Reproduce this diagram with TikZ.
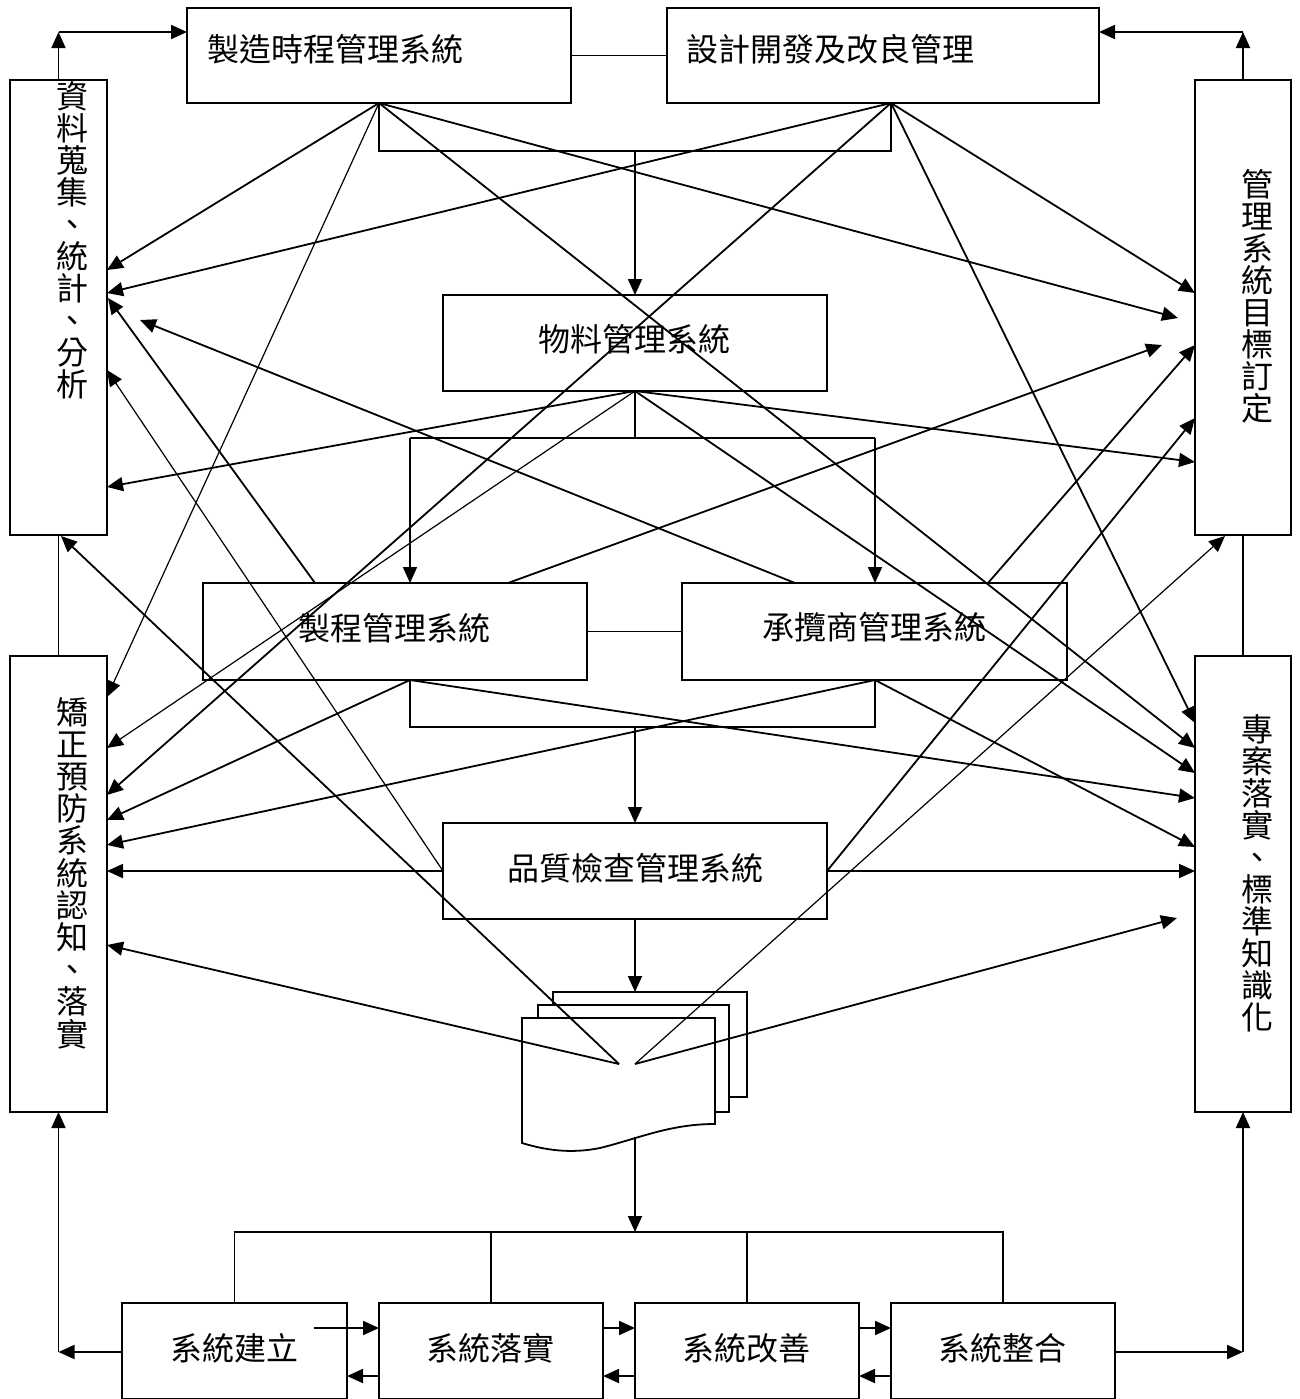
\documentclass[tikz,border=0pt]{standalone}
\usepackage{fontspec}
\newfontfamily\cjk{Noto Sans CJK TC}
\usetikzlibrary{arrows.meta}
\begin{document}
\begin{tikzpicture}[x=0.5pt,y=-0.5pt,
  box/.style={draw,line width=0.9pt,inner sep=0,outer sep=0},
  ln/.style={line width=0.9pt},
  arr/.style={line width=0.9pt,-{Triangle[length=8pt,width=7pt]}},
  tarr/.style={line width=0.6pt,-{Triangle[length=8pt,width=7pt]}},
  lbl/.style={font=\cjk\fontsize{16}{16}\selectfont,inner sep=0,anchor=base}]
\useasboundingbox (0,0) rectangle (1300,1399);
% ---------- boxes ----------
\node[box,minimum width=192pt,minimum height=47.5pt] (A) at (379,55.5) {};
\node[box,minimum width=216pt,minimum height=47.5pt] (B) at (883,55.5) {};
\node[box,minimum width=48.5pt,minimum height=227.5pt] (L1) at (58.5,307.5) {};
\node[box,minimum width=48pt,minimum height=227.5pt] (R1) at (1243,307.5) {};
\node[box,minimum width=48.5pt,minimum height=228pt] (L2) at (58.5,884) {};
\node[box,minimum width=48pt,minimum height=228pt] (R2) at (1243,884) {};
\node[box,minimum width=192pt,minimum height=48pt] (M) at (635,343) {};
\node[box,minimum width=192pt,minimum height=48.5pt] (P) at (395,631.5) {};
\node[box,minimum width=192.5pt,minimum height=48.5pt] (C) at (874.5,631.5) {};
\node[box,minimum width=192pt,minimum height=48pt] (Q) at (635,871) {};
\node[box,minimum width=112.5pt,minimum height=48pt] (S1) at (234.5,1351) {};
\node[box,minimum width=112pt,minimum height=48pt] (S2) at (491,1351) {};
\node[box,minimum width=112pt,minimum height=48pt] (S3) at (747,1351) {};
\node[box,minimum width=112pt,minimum height=48pt] (S4) at (1003,1351) {};
% ---------- labels ----------
\node[lbl] (tA) at (335,61) {製造時程管理系統};
\node[lbl] (tB) at (830,61) {設計開發及改良管理};
\node[lbl] (tM) at (634,351) {物料管理系統};
\node[lbl] (tP) at (394,640) {製程管理系統};
\node[lbl] (tC) at (874,639) {承攬商管理系統};
\node[lbl] (tQ) at (635,880) {品質檢查管理系統};
\node[lbl] (tS1) at (234,1360) {系統建立};
\node[lbl] (tS2) at (490.5,1360) {系統落實};
\node[lbl] (tS3) at (746.5,1360) {系統改善};
\node[lbl] (tS4) at (1002.5,1360) {系統整合};
\foreach \ch [count=\i from 0] in {資,料,蒐,集,、,統,計,、,分,析}
  \node[lbl] (tL1\i) at (72,{108+32*\i}) {\ch};
\foreach \ch [count=\i from 0] in {管,理,系,統,目,標,訂,定}
  \node[lbl] (tR1\i) at (1257,{196+32*\i}) {\ch};
\foreach \ch [count=\i from 0] in {矯,正,預,防,系,統,認,知,、,落,實}
  \node[lbl] (tL2\i) at (72,{724+32.2*\i}) {\ch};
\foreach \ch [count=\i from 0] in {專,案,落,實,、,標,準,知,識,化}
  \node[lbl] (tR2\i) at (1257,{741+32.1*\i}) {\ch};
% ---------- document stack ----------
\draw[ln,fill=white] (553,992) rectangle (747,1097);
\draw[ln,fill=white] (538,1005) rectangle (729,1112);
\draw[ln,fill=white] (522,1018) -- (715,1018) -- (715,1124)
  .. controls (670,1124) and (640,1138) .. (600,1148)
  .. controls (570,1154) and (545,1150) .. (522,1143) -- cycle;
% ---------- coordinates ----------
\coordinate (Bs) at (891,103);
\coordinate (Pt1) at (315,583); \coordinate (Pt2) at (508,583);
\coordinate (Ct1) at (795,583); \coordinate (Ct2) at (988,583);
\coordinate (Pb) at (410,680);  \coordinate (Cb) at (875,680);
\coordinate (docL) at (619,1064); \coordinate (docR) at (635,1064);
\coordinate (docTop) at (635,992); \coordinate (docBot) at (635,1137);
\coordinate (L1a) at (107,270); \coordinate (L1b) at (107,293); \coordinate (L1c) at (108,298);
\coordinate (L1d) at (140,320); \coordinate (L1e) at (107,370); \coordinate (L1f) at (107,487);
\coordinate (L1g) at (61,536);
\coordinate (L2a) at (107,697); \coordinate (L2b) at (107,748); \coordinate (L2c) at (107,795);
\coordinate (L2d) at (107,820); \coordinate (L2e) at (107,845); \coordinate (L2g) at (107,945);
\coordinate (R1a) at (1195,293); \coordinate (R1b) at (1178,318); \coordinate (R1c) at (1162,345);
\coordinate (R1d) at (1195,345); \coordinate (R1e) at (1195,418); \coordinate (R1f) at (1195,462);
\coordinate (R1g) at (1225,536);
\coordinate (R2a) at (1195,723); \coordinate (R2b) at (1195,748); \coordinate (R2c) at (1195,773);
\coordinate (R2d) at (1195,798); \coordinate (R2e) at (1195,847); \coordinate (R2g) at (1177,918);
\coordinate (t1) at (635,151); \coordinate (t2) at (635,438);
\coordinate (t2l) at (410,438); \coordinate (t2r) at (875,438);
\coordinate (t3) at (635,727); \coordinate (t4) at (635,1232);
\coordinate (cTL) at (58.5,32); \coordinate (cTR) at (1243,32);
\coordinate (cBL) at (58.5,1352); \coordinate (cBR) at (1243,1352);
\coordinate (yU) at (0,1328); \coordinate (yD) at (0,1376);
\coordinate (s12) at (314,1328);
% ---------- tree connectors ----------
\draw[ln] (A.east) -- (B.west);
\draw[ln] (P.east) -- (C.west);
\draw[arr] (L1.north) -- (cTL); \draw[arr] (cTL) -- (A.west |- cTL);
\draw[arr] (R1.north) -- (cTR); \draw[arr] (cTR) -- (B.east |- cTR);
\draw[ln] (L1.south) -- (L2.north);
\draw[ln] (R1.south) -- (R2.north);
\draw[ln] (A.south) -- (A.south |- t1) -- (Bs |- t1) -- (Bs);
\draw[arr] (t1) -- (M.north);
\draw[ln] (M.south) -- (t2);
\draw[ln] (t2l) -- (t2r);
\draw[arr] (t2l) -- (t2l |- P.north);
\draw[arr] (t2r) -- (t2r |- C.north);
\draw[ln] (Pb) -- (Pb |- t3) -- (Cb |- t3) -- (Cb);
\draw[arr] (t3) -- (Q.north);
\draw[arr] (Q.west) -- (Q.west -| L2.east);
\draw[arr] (Q.east) -- (Q.east -| R2.west);
\draw[arr] (Q.south) -- (docTop);
\draw[arr] (docBot) -- (t4);
\draw[ln] (S1.north) -- (S1.north |- t4) -- (S4.north |- t4) -- (S4.north);
\draw[ln] (S2.north) -- (S2.north |- t4);
\draw[ln] (S3.north) -- (S3.north |- t4);
\draw[arr] (s12) -- (S2.west |- yU);
\draw[arr] (S2.west |- yD) -- (S1.east |- yD);
\draw[arr] (S2.east |- yU) -- (S3.west |- yU);
\draw[arr] (S3.west |- yD) -- (S2.east |- yD);
\draw[arr] (S3.east |- yU) -- (S4.west |- yU);
\draw[arr] (S4.west |- yD) -- (S3.east |- yD);
\draw[arr] (S1.west |- cBL) -- (cBL); \draw[arr] (cBL) -- (L2.south);
\draw[arr] (S4.east |- cBR) -- (cBR); \draw[arr] (cBR) -- (R2.south);
% ---------- diagonal connectors ----------
\draw[arr] (A.south) -- (L1a);
\draw[tarr] (A.south) -- (L2a);
\draw[arr] (A.south) -- (R1b);
\draw[arr] (A.south) -- (R2b);
\draw[arr] (Bs) -- (L1b);
\draw[arr] (Bs) -- (L2c);
\draw[arr] (Bs) -- (R1a);
\draw[arr] (Bs) -- (R2a);
\draw[arr] (M.south) -- (L1f);
\draw[tarr] (M.south) -- (L2b);
\draw[arr] (M.south) -- (R1f);
\draw[arr] (M.south) -- (R2c);
\draw[arr] (Pt1) -- (L1c);
\draw[arr] (Pt2) -- (R1c);
\draw[arr] (Ct1) -- (L1d);
\draw[arr] (Ct2) -- (R1d);
\draw[arr] (Pb) -- (L2d);
\draw[arr] (Pb) -- (R2d);
\draw[arr] (Cb) -- (L2e);
\draw[arr] (Cb) -- (R2e);
\draw[tarr] (Q.west) -- (L1e);
\draw[arr] (Q.east) -- (R1e);
\draw[arr] (docL) -- (L1g);
\draw[arr] (docL) -- (L2g);
\draw[tarr] (docR) -- (R1g);
\draw[arr] (docR) -- (R2g);
\end{tikzpicture}
\end{document}
